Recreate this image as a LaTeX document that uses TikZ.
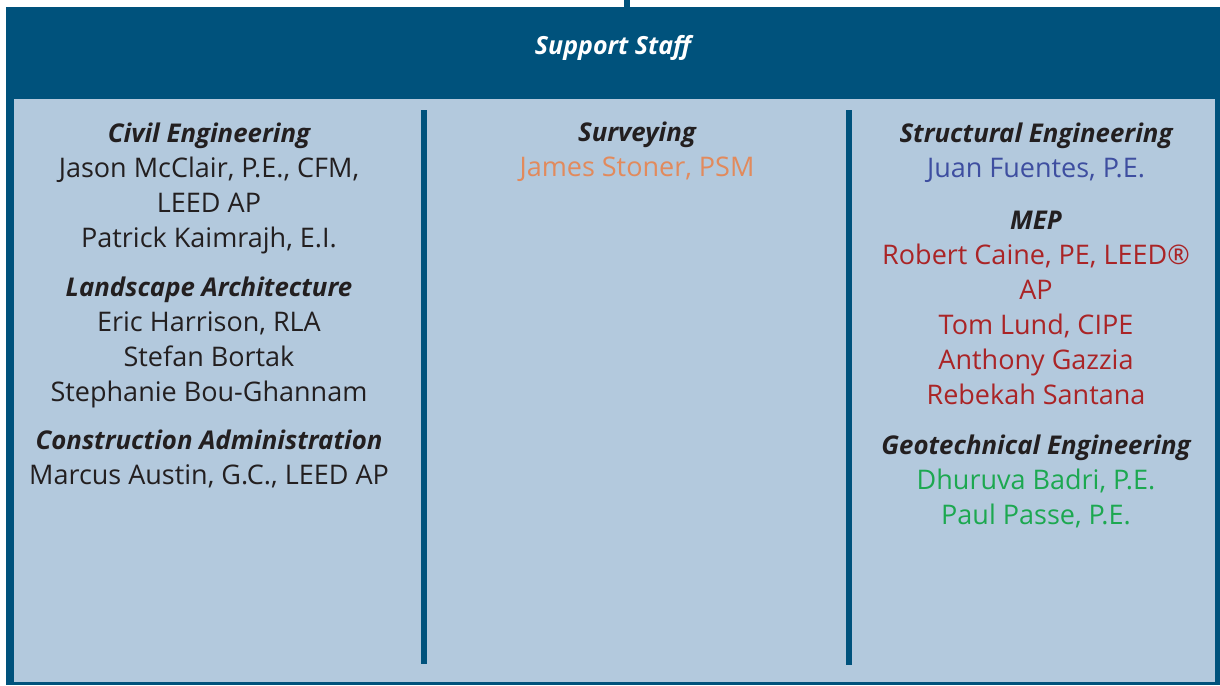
\documentclass[tikz,border=0pt]{standalone}
\usepackage{fontspec}
\setmainfont{Open Sans}
\usepackage{xcolor}
\usetikzlibrary{positioning}

\definecolor{staffblue}{RGB}{0,82,124}
\definecolor{panelblue}{RGB}{179,201,221}
\definecolor{inkgray}{RGB}{35,31,32}
\definecolor{surveyorange}{RGB}{226,138,92}
\definecolor{structblue}{RGB}{62,78,160}
\definecolor{mepred}{RGB}{170,36,38}
\definecolor{geogreen}{RGB}{28,168,80}

\newcommand{\dept}[1]{{\fontsize{25.8}{35}\selectfont\bfseries\itshape #1}}

\begin{document}
\begin{tikzpicture}[
    x=1pt, y=-1pt,
    header/.style={rectangle, fill=staffblue, inner sep=0pt, minimum width=1214pt, minimum height=92pt, text height=18pt, text depth=14pt, text=white, font=\fontsize{25}{35}\selectfont\bfseries\itshape},
    column/.style={anchor=north, inner sep=0pt, align=center, text=inkgray, font=\fontsize{27}{35}\selectfont},
    divider/.style={staffblue, line width=6pt},
    link/.style={staffblue, line width=6pt}
]
\useasboundingbox (0,0) rectangle (1220,685);

% frame and panel
\fill[staffblue] (6,7) rectangle (1220,685);
\fill[panelblue] (14,99) rectangle (1215,682);

\node[header] (staff) at (613,53) {Support Staff};
\coordinate (lead) at (627,0);
\draw[link] (lead) -- (lead |- staff.north);

% column dividers
\draw[divider] (424,110) -- (424,664);
\draw[divider] (849,110) -- (849,665);

\node[column] (civil) at (209,118) {\strut\dept{Civil Engineering}\\
    Jason McClair, P.E., CFM,\\
    LEED AP\\
    Patrick Kaimrajh, E.I.\\[14pt]
    \dept{Landscape Architecture}\\
    Eric Harrison, RLA\\
    Stefan Bortak\\
    Stephanie Bou-Ghannam\\[13pt]
    \dept{Construction Administration}\\
    Marcus Austin, G.C., LEED AP};

\node[column] (survey) at (637,117) {\strut\dept{Surveying}\\
    \textcolor{surveyorange}{James Stoner, PSM}};

\node[column] (struct) at (1036,118) {\strut\dept{Structural Engineering}\\
    \textcolor{structblue}{Juan Fuentes, P.E.}\\[17pt]
    \dept{MEP}\\
    \textcolor{mepred}{Robert Caine, PE, LEED®}\\
    \textcolor{mepred}{AP}\\
    \textcolor{mepred}{Tom Lund, CIPE}\\
    \textcolor{mepred}{Anthony Gazzia}\\
    \textcolor{mepred}{Rebekah Santana}\\[15pt]
    \dept{Geotechnical Engineering}\\
    \textcolor{geogreen}{Dhuruva Badri, P.E.}\\
    \textcolor{geogreen}{Paul Passe, P.E.}};

\end{tikzpicture}
\end{document}
